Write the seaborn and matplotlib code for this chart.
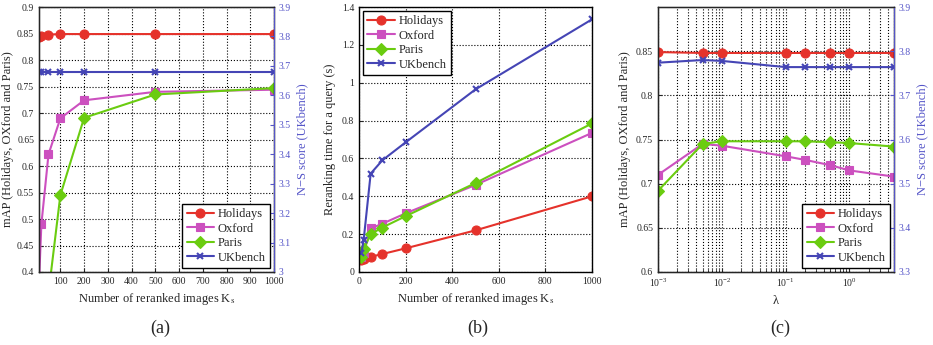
import matplotlib
matplotlib.use('Agg')
import matplotlib.pyplot as plt
import seaborn as sns
import numpy as np

# data
ks = [10, 20, 50, 100, 200, 500, 1000]
lambdas = [0.001, 0.005, 0.01, 0.1, 0.2, 0.5, 1, 5]

map_holidays_k = [0.843, 0.846, 0.848, 0.849, 0.849, 0.849, 0.849]
map_oxford_k = [0.38, 0.49, 0.622, 0.69, 0.724, 0.740, 0.744]
map_paris_k = [0.20, 0.25, 0.36, 0.545, 0.691, 0.735, 0.747]
ns_ukbench_k = [3.678, 3.678, 3.678, 3.678, 3.678, 3.678, 3.678]

time_holidays = [0.065, 0.07, 0.08, 0.095, 0.125, 0.22, 0.40]
time_oxford = [0.08, 0.10, 0.23, 0.255, 0.31, 0.46, 0.735]
time_paris = [0.08, 0.12, 0.20, 0.235, 0.295, 0.47, 0.785]
time_ukbench = [0.10, 0.17, 0.52, 0.59, 0.685, 0.965, 1.335]

map_holidays_l = [0.849, 0.848, 0.848, 0.848, 0.848, 0.848, 0.848, 0.848]
map_oxford_l = [0.710, 0.745, 0.743, 0.731, 0.727, 0.721, 0.715, 0.708]
map_paris_l = [0.692, 0.745, 0.748, 0.748, 0.748, 0.747, 0.746, 0.742]
ns_ukbench_l = [3.774, 3.780, 3.778, 3.764, 3.764, 3.764, 3.764, 3.764]

names = ['Holidays', 'Oxford', 'Paris', 'UKbench']
colors = {'Holidays': '#e5322b', 'Oxford': '#cc50bf', 'Paris': '#6acc10', 'UKbench': '#4545b5'}
markers = {'Holidays': 'o', 'Oxford': 's', 'Paris': 'D', 'UKbench': 'x'}
msize = {'Holidays': 6.5, 'Oxford': 5.5, 'Paris': 6, 'UKbench': 5}
axis_blue = '#5555c8'

sns.set_style('ticks')
plt.rcParams['font.family'] = ['Liberation Serif', 'DejaVu Serif']
plt.rcParams['mathtext.fontset'] = 'stix'
plt.rcParams['xtick.direction'] = 'in'
plt.rcParams['ytick.direction'] = 'in'

fig = plt.figure(figsize=(9.33, 3.45), dpi=100)
ax_a = fig.add_axes([0.0418, 0.2116, 0.2519, 0.768])
ax_b = fig.add_axes([0.3848, 0.2116, 0.2497, 0.768])
ax_c = fig.add_axes([0.7053, 0.2116, 0.2529, 0.768])

TICK = 7
LAB = 9


def draw(ax, x, y, name):
    sns.lineplot(x=x, y=y, ax=ax, color=colors[name], marker=markers[name],
                 markersize=msize[name], markeredgecolor=colors[name],
                 markeredgewidth=1.5 if name == 'UKbench' else 0.8,
                 linewidth=1.5, label=name, sort=False, legend=False)


def style_grid(ax):
    ax.grid(True, which='major', color='black', linestyle=':', linewidth=0.8)
    ax.tick_params(labelsize=TICK, length=3)
    for s in ax.spines.values():
        s.set_linewidth(1.0)
        s.set_color('black')


def make_legend(ax_top, handles, loc):
    leg = ax_top.legend(handles=handles, labels=names, loc=loc, fontsize=9,
                        fancybox=False, framealpha=1, edgecolor='black',
                        handlelength=2.2, borderpad=0.35, labelspacing=0.2,
                        handletextpad=0.3, borderaxespad=0.3)
    leg.get_frame().set_linewidth(1.0)


# (a)
draw(ax_a, ks, map_holidays_k, 'Holidays')
draw(ax_a, ks, map_oxford_k, 'Oxford')
draw(ax_a, ks, map_paris_k, 'Paris')
ax_a.set_xlim(10, 1000)
ax_a.set_ylim(0.4, 0.9)
ax_a.set_xticks(range(100, 1001, 100))
ax_a.set_yticks(np.arange(0.4, 0.901, 0.05))
ax_a.set_yticklabels(['0.4', '0.45', '0.5', '0.55', '0.6', '0.65', '0.7', '0.75', '0.8', '0.85', '0.9'])
style_grid(ax_a)
ax_a.set_xlabel('Number of reranked images K$_{\\rm s}$', fontsize=LAB)
ax_a.set_ylabel('mAP (Holidays, OXford and Paris)', fontsize=LAB, labelpad=2)
ax_a2 = ax_a.twinx()
draw(ax_a2, ks, ns_ukbench_k, 'UKbench')
ax_a2.set_ylim(3.0, 3.9)
ax_a2.set_yticks(np.arange(3.0, 3.91, 0.1))
ax_a2.set_yticklabels(['3', '3.1', '3.2', '3.3', '3.4', '3.5', '3.6', '3.7', '3.8', '3.9'])
ax_a2.tick_params(labelsize=TICK, length=3, colors=axis_blue, direction='in')
ax_a2.spines['right'].set_color(axis_blue)
ax_a2.set_ylabel('N\u2212S score (UKbench)', fontsize=LAB, color=axis_blue)
h = ax_a.get_lines()[:3] + ax_a2.get_lines()[:1]
make_legend(ax_a2, h, 'lower right')

# (b)
draw(ax_b, ks, time_holidays, 'Holidays')
draw(ax_b, ks, time_oxford, 'Oxford')
draw(ax_b, ks, time_paris, 'Paris')
draw(ax_b, ks, time_ukbench, 'UKbench')
ax_b.set_xlim(0, 1000)
ax_b.set_ylim(0, 1.4)
ax_b.set_xticks(range(0, 1001, 200))
ax_b.set_yticks(np.arange(0, 1.41, 0.2))
ax_b.set_yticklabels(['0', '0.2', '0.4', '0.6', '0.8', '1', '1.2', '1.4'])
style_grid(ax_b)
ax_b.set_xlabel('Number of reranked images K$_{\\rm s}$', fontsize=LAB)
ax_b.set_ylabel('Reranking time for a query (s)', fontsize=LAB)
make_legend(ax_b, ax_b.get_lines()[:4], 'upper left')

# (c)
draw(ax_c, lambdas, map_holidays_l, 'Holidays')
draw(ax_c, lambdas, map_oxford_l, 'Oxford')
draw(ax_c, lambdas, map_paris_l, 'Paris')
ax_c.set_xscale('log')
ax_c.set_xlim(1e-3, 5)
ax_c.set_ylim(0.6, 0.9)
ax_c.set_yticks(np.arange(0.6, 0.851, 0.05))
ax_c.set_yticklabels(['0.6', '0.65', '0.7', '0.75', '0.8', '0.85'])
ax_c.set_xticks([1e-3, 1e-2, 1e-1, 1])
ax_c.set_xticklabels(['10$^{-3}$', '10$^{-2}$', '10$^{-1}$', '10$^{0}$'])
style_grid(ax_c)
ax_c.xaxis.set_minor_locator(matplotlib.ticker.LogLocator(base=10, subs=np.arange(2, 10)))
ax_c.grid(True, which='minor', axis='x', color='black', linestyle=':', linewidth=0.8)
ax_c.set_xlabel('\u03bb', fontsize=LAB)
ax_c.set_ylabel('mAP (Holidays, OXford and Paris)', fontsize=LAB)
ax_c2 = ax_c.twinx()
draw(ax_c2, lambdas, ns_ukbench_l, 'UKbench')
ax_c2.set_xscale('log')
ax_c2.set_xlim(1e-3, 5)
ax_c2.set_ylim(3.3, 3.9)
ax_c2.set_yticks(np.arange(3.3, 3.91, 0.1))
ax_c2.set_yticklabels(['3.3', '3.4', '3.5', '3.6', '3.7', '3.8', '3.9'])
ax_c2.tick_params(labelsize=TICK, length=3, colors=axis_blue, direction='in')
ax_c2.spines['right'].set_color(axis_blue)
ax_c2.set_ylabel('N\u2212S score (UKbench)', fontsize=LAB, color=axis_blue)
h = ax_c.get_lines()[:3] + ax_c2.get_lines()[:1]
make_legend(ax_c2, h, 'lower right')

for ax in (ax_a, ax_b, ax_c):
    ax.set_axisbelow(True)

fig.text(0.172, 0.035, '(a)', fontsize=13, ha='center')
fig.text(0.512, 0.035, '(b)', fontsize=13, ha='center')
fig.text(0.836, 0.035, '(c)', fontsize=13, ha='center')

fig.savefig('out.png', dpi=100)
